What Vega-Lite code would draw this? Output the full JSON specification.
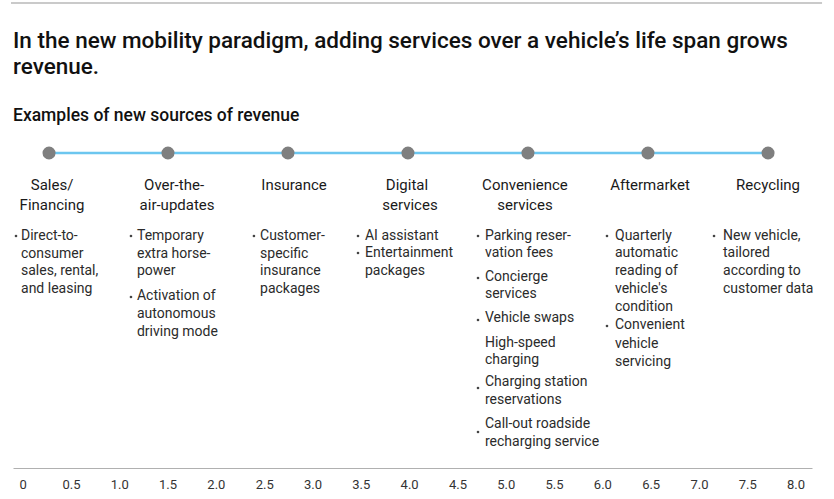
{
  "$schema": "https://vega.github.io/schema/vega-lite/v6.json",
  "width": 799,
  "height": 468,
  "autosize": {"type": "none"},
  "padding": {"left": 13, "top": 0, "right": 22, "bottom": 31},
  "background": "white",
  "title": {
    "text": ["In the new mobility paradigm, adding services over a vehicle’s life span grows", "revenue."],
    "subtitle": "Examples of new sources of revenue",
    "anchor": "start",
    "frame": "group",
    "orient": "top",
    "offset": -124,
    "font": "Roboto",
    "fontSize": 22.5,
    "fontWeight": 500,
    "lineHeight": 26,
    "color": "#111111",
    "subtitleFont": "Roboto",
    "subtitleFontSize": 17.5,
    "subtitleFontWeight": 500,
    "subtitleColor": "#111111",
    "subtitlePadding": 28
  },
  "config": {"view": {"stroke": null}, "font": "Roboto"},
  "encoding": {
    "x": {
      "field": "x",
      "type": "quantitative",
      "scale": {"domain": [-0.1, 8.17], "nice": false, "zero": false},
      "axis": {
        "title": null,
        "values": [0, 0.5, 1, 1.5, 2, 2.5, 3, 3.5, 4, 4.5, 5, 5.5, 6, 6.5, 7, 7.5, 8],
        "grid": false,
        "ticks": false,
        "tickSize": 0,
        "domainColor": "#b0b0b0",
        "domainWidth": 1,
        "labelPadding": 10,
        "labelFont": "Roboto",
        "labelFontSize": 13,
        "labelColor": "#333333",
        "labelFlush": false,
        "labelOverlap": false,
        "labelExpr": "datum.value === 0 ? '0' : format(datum.value, '.1f')"
      }
    },
    "y": {
      "field": "y",
      "type": "quantitative",
      "scale": {"domain": [0, 26], "reverse": true, "nice": false, "zero": false},
      "axis": null
    }
  },
  "layer": [
    {
      "data": {"values": [{"x": -0.121, "x2": 8.274, "y": 0.167}]},
      "mark": {"type": "rule", "color": "#b8b8b8", "strokeWidth": 1.5},
      "encoding": {"x2": {"field": "x2"}}
    },
    {
      "data": {"values": [{"x": 0.273, "x2": 7.715, "y": 8.5}]},
      "mark": {"type": "rule", "color": "#6cc6ef", "strokeWidth": 2.5},
      "encoding": {"x2": {"field": "x2"}}
    },
    {
      "data": {"values": [
        {"stage": "Sales/Financing", "x": 0.273, "y": 8.5},
        {"stage": "Over-the-air-updates", "x": 1.504, "y": 8.5},
        {"stage": "Insurance", "x": 2.746, "y": 8.5},
        {"stage": "Digital services", "x": 3.988, "y": 8.5},
        {"stage": "Convenience services", "x": 5.23, "y": 8.5},
        {"stage": "Aftermarket", "x": 6.472, "y": 8.5},
        {"stage": "Recycling", "x": 7.715, "y": 8.5}
      ]},
      "mark": {"type": "circle", "size": 170, "color": "#7f7f7f", "opacity": 1}
    },
    {
      "data": {"values": [
        {"text": "Sales/", "x": 0.304, "y": 10.278},
        {"text": "Financing", "x": 0.304, "y": 11.389},
        {"text": "Over-the-", "x": 1.567, "y": 10.278},
        {"text": "air-updates", "x": 1.598, "y": 11.389},
        {"text": "Insurance", "x": 2.809, "y": 10.278},
        {"text": "Digital", "x": 3.978, "y": 10.278},
        {"text": "services", "x": 4.009, "y": 11.389},
        {"text": "Convenience", "x": 5.199, "y": 10.278},
        {"text": "services", "x": 5.199, "y": 11.389},
        {"text": "Aftermarket", "x": 6.493, "y": 10.278},
        {"text": "Recycling", "x": 7.715, "y": 10.278}
      ]},
      "mark": {"type": "text", "align": "center", "baseline": "middle", "font": "Roboto", "fontSize": 15, "color": "#1a1a1a"},
      "encoding": {"text": {"field": "text"}}
    },
    {
      "data": {"values": [
        {"text": "Direct-to-", "x": -0.017, "y": 13.111},
        {"text": "consumer", "x": -0.017, "y": 14.111},
        {"text": "sales, rental,", "x": -0.017, "y": 15.056},
        {"text": "and leasing", "x": -0.017, "y": 16.056},
        {"text": "Temporary", "x": 1.183, "y": 13.111},
        {"text": "extra horse-", "x": 1.183, "y": 14.111},
        {"text": "power", "x": 1.183, "y": 15.056},
        {"text": "Activation of", "x": 1.183, "y": 16.444},
        {"text": "autonomous", "x": 1.183, "y": 17.444},
        {"text": "driving mode", "x": 1.183, "y": 18.444},
        {"text": "Customer-", "x": 2.457, "y": 13.111},
        {"text": "specific", "x": 2.457, "y": 14.111},
        {"text": "insurance", "x": 2.457, "y": 15.056},
        {"text": "packages", "x": 2.457, "y": 16.056},
        {"text": "AI assistant", "x": 3.543, "y": 13.111},
        {"text": "Entertainment", "x": 3.543, "y": 14.083},
        {"text": "packages", "x": 3.543, "y": 15.056},
        {"text": "Parking reser-", "x": 4.785, "y": 13.111},
        {"text": "vation fees", "x": 4.785, "y": 14.056},
        {"text": "Concierge", "x": 4.785, "y": 15.389},
        {"text": "services", "x": 4.785, "y": 16.333},
        {"text": "Vehicle swaps", "x": 4.785, "y": 17.639},
        {"text": "High-speed", "x": 4.785, "y": 19.03},
        {"text": "charging", "x": 4.785, "y": 20.0},
        {"text": "Charging station", "x": 4.785, "y": 21.222},
        {"text": "reservations", "x": 4.785, "y": 22.222},
        {"text": "Call-out roadside", "x": 4.785, "y": 23.556},
        {"text": "recharging service", "x": 4.785, "y": 24.556},
        {"text": "Quarterly", "x": 6.131, "y": 13.111},
        {"text": "automatic", "x": 6.131, "y": 14.056},
        {"text": "reading of", "x": 6.131, "y": 15.056},
        {"text": "vehicle's", "x": 6.131, "y": 16.056},
        {"text": "condition", "x": 6.131, "y": 17.056},
        {"text": "Convenient", "x": 6.131, "y": 18.083},
        {"text": "vehicle", "x": 6.131, "y": 19.111},
        {"text": "servicing", "x": 6.131, "y": 20.111},
        {"text": "New vehicle,", "x": 7.249, "y": 13.111},
        {"text": "tailored", "x": 7.249, "y": 14.056},
        {"text": "according to", "x": 7.249, "y": 15.056},
        {"text": "customer data", "x": 7.249, "y": 16.056}
      ]},
      "mark": {"type": "text", "align": "left", "baseline": "middle", "font": "Roboto", "fontSize": 14, "color": "#2b2b2b"},
      "encoding": {"text": {"field": "text"}}
    },
    {
      "data": {"values": [
        {"x": -0.069, "y": 13.111},
        {"x": 1.121, "y": 13.111},
        {"x": 1.121, "y": 16.5},
        {"x": 2.394, "y": 13.111},
        {"x": 3.471, "y": 13.111},
        {"x": 3.471, "y": 14.056},
        {"x": 4.713, "y": 13.111},
        {"x": 4.713, "y": 15.444},
        {"x": 4.713, "y": 17.778},
        {"x": 4.713, "y": 21.556},
        {"x": 4.713, "y": 24.0},
        {"x": 6.048, "y": 13.111},
        {"x": 6.048, "y": 18.111},
        {"x": 7.156, "y": 13.111}
      ]},
      "mark": {"type": "circle", "size": 7, "color": "#444444", "opacity": 1}
    }
  ]
}
